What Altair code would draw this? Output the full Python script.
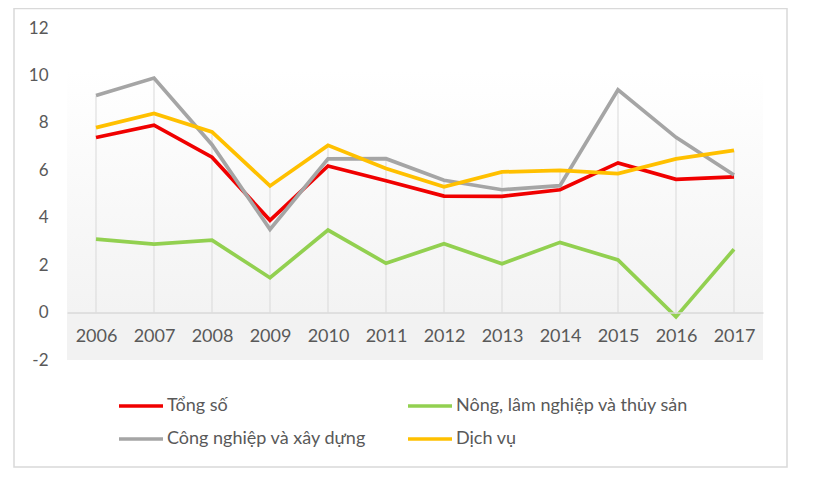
import altair as alt
import pandas as pd

years = ["2006", "2007", "2008", "2009", "2010", "2011", "2012", "2013", "2014", "2015", "2016", "2017"]
tong_so = [7.38, 7.90, 6.55, 3.89, 6.18, 5.56, 4.91, 4.90, 5.18, 6.31, 5.62, 5.72]
nong_lam = [3.10, 2.89, 3.05, 1.47, 3.48, 2.08, 2.90, 2.06, 2.96, 2.22, -0.18, 2.67]
cong_nghiep = [9.15, 9.89, 7.08, 3.51, 6.48, 6.49, 5.58, 5.18, 5.35, 9.39, 7.39, 5.80]
dich_vu = [7.80, 8.40, 7.62, 5.34, 7.05, 6.08, 5.30, 5.93, 6.00, 5.86, 6.48, 6.84]

series_names = ["Tổng số", "Nông, lâm nghiệp và thủy sản", "Công nghiệp và xây dựng", "Dịch vụ"]
series_colors = ["#f00000", "#92d050", "#a5a5a5", "#ffc000"]
# legend grid fills column by column: order entries so rows read as in the reference
legend_order = [0, 2, 1, 3]
y_ticks = [-2, 0, 2, 4, 6, 8, 10, 12]

rows = []
for k, (name, vals) in enumerate(zip(series_names, [tong_so, nong_lam, cong_nghiep, dich_vu])):
    for yr, v in zip(years, vals):
        rows.append({"year": yr, "value": v, "series": name, "ord": k})
df = pd.DataFrame(rows)

drop = pd.DataFrame({
    "year": years,
    "top": [max(a, b, c, d) for a, b, c, d in zip(tong_so, nong_lam, cong_nghiep, dich_vu)],
    "zero": [0] * len(years),
})

FONT = "Lato"
TXT = "#595959"

xscale = alt.Scale(type="point", padding=0.5, domain=years)
yscale = alt.Scale(domain=[-2, 12], nice=False, zero=False)

bg = alt.Chart(pd.DataFrame({"a": [12], "b": [0]})).mark_rect(
    fill=alt.Gradient(
        gradient="linear",
        stops=[alt.GradientStop(color="#ffffff", offset=0.15),
               alt.GradientStop(color="#f3f3f3", offset=1)],
        x1=0, x2=0, y1=0, y2=1,
    )
).encode(
    x=alt.value(0), x2=alt.value("width"),
    y=alt.Y("a:Q", scale=yscale), y2="b:Q",
)

band = alt.Chart(pd.DataFrame({"a": [0], "b": [-2]})).mark_rect(fill="#f2f2f2").encode(
    x=alt.value(0), x2=alt.value("width"),
    y=alt.Y("a:Q", scale=yscale), y2="b:Q",
)

border = alt.Chart(pd.DataFrame({"a": [0]})).mark_rect(
    fill=None, stroke="#d9d9d9", strokeWidth=1.5, clip=False
).encode(
    x=alt.value(-53), x2=alt.value(720), y=alt.value(-19.5), y2=alt.value(439)
)

drops = alt.Chart(drop).mark_rule(color="#d9d9d9", strokeWidth=1).encode(
    x=alt.X("year:O", scale=xscale),
    y=alt.Y("top:Q", scale=yscale),
    y2="zero:Q",
)

lines = alt.Chart(df).mark_line(strokeWidth=3.7, strokeJoin="miter", strokeCap="butt").encode(
    x=alt.X("year:O", scale=xscale, title=None,
            axis=alt.Axis(orient="bottom", offset=-47.4, domain=True, domainColor="#d9d9d9",
                          domainWidth=1.5, ticks=False, grid=False, labelAngle=0,
                          labelAlign="center", labelBaseline="middle",
                          labelFont=FONT, labelFontSize=18, labelColor=TXT,
                          labelPadding=24, zindex=1)),
    y=alt.Y("value:Q", scale=yscale, title=None,
            axis=alt.Axis(values=y_ticks, domain=False, ticks=False, tickSize=0, grid=False,
                          labelExpr="'' + datum.value",
                          labelFont=FONT, labelFontSize=17, labelColor=TXT, labelPadding=19)),
    color=alt.Color("series:N",
                    scale=alt.Scale(domain=[series_names[i] for i in legend_order],
                                    range=[series_colors[i] for i in legend_order]),
                    legend=alt.Legend(orient="none", legendX=50, legendY=354, columns=2,
                                      title=None, symbolType="stroke", symbolSize=1936,
                                      symbolStrokeWidth=3.7, labelFont=FONT, labelFontSize=18,
                                      labelColor=TXT, columnPadding=33, rowPadding=-8,
                                      labelOffset=2, labelLimit=400)),
    order="ord:Q",
    detail="series:N",
)

chart = alt.layer(bg, band, drops, lines, border).properties(
    width=696, height=332,
    autosize=alt.AutoSizeParams(type="none"),
    padding={"left": 59, "top": 20, "right": 30, "bottom": 110},
).configure_view(stroke=None)

chart.save("out.html", embed_options={"renderer": "svg", "actions": False})
